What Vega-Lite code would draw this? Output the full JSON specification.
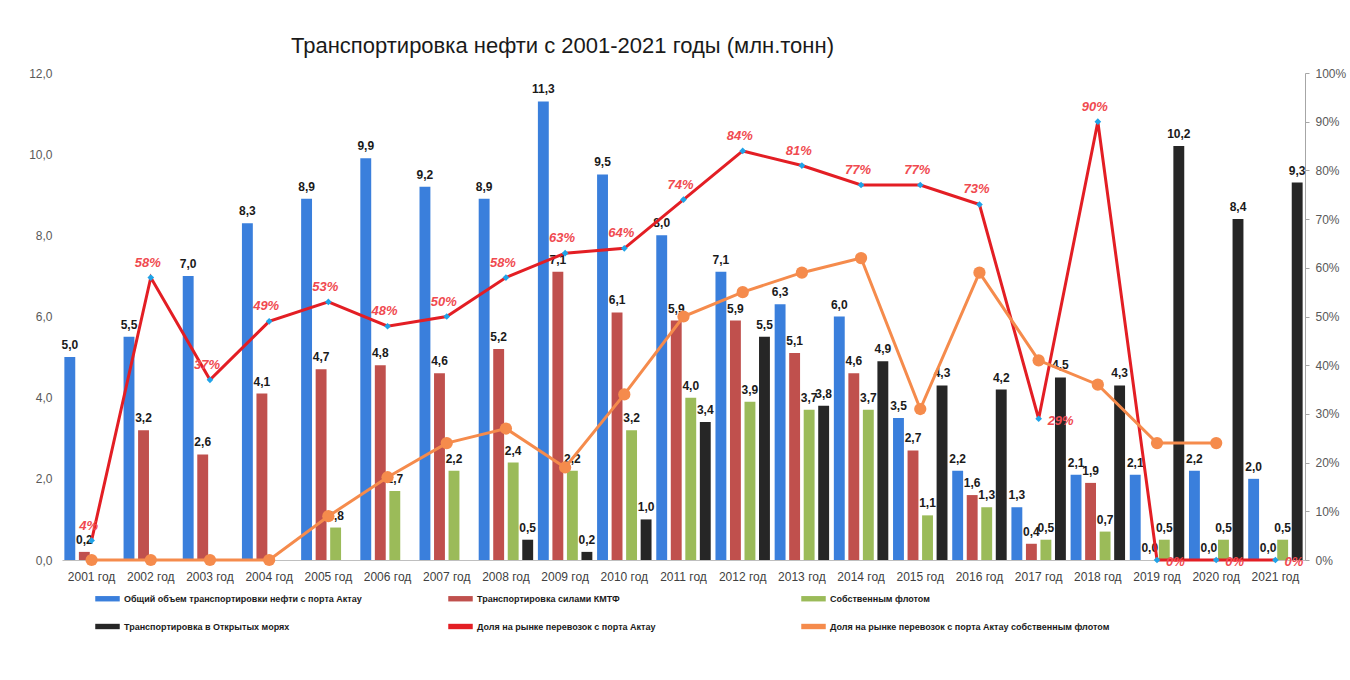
{
  "$schema": "https://vega.github.io/schema/vega-lite/v6.json",
  "width": 1243,
  "height": 487,
  "autosize": {"type": "none"},
  "padding": {"left": 62, "top": 73, "right": 45, "bottom": 120},
  "background": "white",
  "config": {
    "locale": {"number": {"decimal": ",", "thousands": " ", "grouping": [3], "currency": ["", ""]}},
    "view": {"stroke": null},
    "font": "Liberation Sans"
  },
  "title": {
    "text": "Транспортировка нефти с 2001-2021 годы (млн.тонн)",
    "anchor": "middle",
    "dx": -121,
    "offset": 9,
    "fontSize": 22,
    "font": "Liberation Sans",
    "fontWeight": "normal",
    "color": "#1a1a1a"
  },
  "datasets": {
    "bars": [
      {"year": 2001, "series": "Общий объем транспортировки нефти с порта Актау", "value": 5.0},
      {"year": 2001, "series": "Транспортировка силами КМТФ", "value": 0.2},
      {"year": 2002, "series": "Общий объем транспортировки нефти с порта Актау", "value": 5.5},
      {"year": 2002, "series": "Транспортировка силами КМТФ", "value": 3.2},
      {"year": 2003, "series": "Общий объем транспортировки нефти с порта Актау", "value": 7.0},
      {"year": 2003, "series": "Транспортировка силами КМТФ", "value": 2.6},
      {"year": 2004, "series": "Общий объем транспортировки нефти с порта Актау", "value": 8.3},
      {"year": 2004, "series": "Транспортировка силами КМТФ", "value": 4.1},
      {"year": 2005, "series": "Общий объем транспортировки нефти с порта Актау", "value": 8.9},
      {"year": 2005, "series": "Транспортировка силами КМТФ", "value": 4.7},
      {"year": 2005, "series": "Собственным флотом", "value": 0.8},
      {"year": 2006, "series": "Общий объем транспортировки нефти с порта Актау", "value": 9.9},
      {"year": 2006, "series": "Транспортировка силами КМТФ", "value": 4.8},
      {"year": 2006, "series": "Собственным флотом", "value": 1.7},
      {"year": 2007, "series": "Общий объем транспортировки нефти с порта Актау", "value": 9.2},
      {"year": 2007, "series": "Транспортировка силами КМТФ", "value": 4.6},
      {"year": 2007, "series": "Собственным флотом", "value": 2.2},
      {"year": 2008, "series": "Общий объем транспортировки нефти с порта Актау", "value": 8.9},
      {"year": 2008, "series": "Транспортировка силами КМТФ", "value": 5.2},
      {"year": 2008, "series": "Собственным флотом", "value": 2.4},
      {"year": 2008, "series": "Транспортировка в Открытых морях", "value": 0.5},
      {"year": 2009, "series": "Общий объем транспортировки нефти с порта Актау", "value": 11.3},
      {"year": 2009, "series": "Транспортировка силами КМТФ", "value": 7.1},
      {"year": 2009, "series": "Собственным флотом", "value": 2.2},
      {"year": 2009, "series": "Транспортировка в Открытых морях", "value": 0.2},
      {"year": 2010, "series": "Общий объем транспортировки нефти с порта Актау", "value": 9.5},
      {"year": 2010, "series": "Транспортировка силами КМТФ", "value": 6.1},
      {"year": 2010, "series": "Собственным флотом", "value": 3.2},
      {"year": 2010, "series": "Транспортировка в Открытых морях", "value": 1.0},
      {"year": 2011, "series": "Общий объем транспортировки нефти с порта Актау", "value": 8.0},
      {"year": 2011, "series": "Транспортировка силами КМТФ", "value": 5.9},
      {"year": 2011, "series": "Собственным флотом", "value": 4.0},
      {"year": 2011, "series": "Транспортировка в Открытых морях", "value": 3.4},
      {"year": 2012, "series": "Общий объем транспортировки нефти с порта Актау", "value": 7.1},
      {"year": 2012, "series": "Транспортировка силами КМТФ", "value": 5.9},
      {"year": 2012, "series": "Собственным флотом", "value": 3.9},
      {"year": 2012, "series": "Транспортировка в Открытых морях", "value": 5.5},
      {"year": 2013, "series": "Общий объем транспортировки нефти с порта Актау", "value": 6.3},
      {"year": 2013, "series": "Транспортировка силами КМТФ", "value": 5.1},
      {"year": 2013, "series": "Собственным флотом", "value": 3.7},
      {"year": 2013, "series": "Транспортировка в Открытых морях", "value": 3.8},
      {"year": 2014, "series": "Общий объем транспортировки нефти с порта Актау", "value": 6.0},
      {"year": 2014, "series": "Транспортировка силами КМТФ", "value": 4.6},
      {"year": 2014, "series": "Собственным флотом", "value": 3.7},
      {"year": 2014, "series": "Транспортировка в Открытых морях", "value": 4.9},
      {"year": 2015, "series": "Общий объем транспортировки нефти с порта Актау", "value": 3.5},
      {"year": 2015, "series": "Транспортировка силами КМТФ", "value": 2.7},
      {"year": 2015, "series": "Собственным флотом", "value": 1.1},
      {"year": 2015, "series": "Транспортировка в Открытых морях", "value": 4.3},
      {"year": 2016, "series": "Общий объем транспортировки нефти с порта Актау", "value": 2.2},
      {"year": 2016, "series": "Транспортировка силами КМТФ", "value": 1.6},
      {"year": 2016, "series": "Собственным флотом", "value": 1.3},
      {"year": 2016, "series": "Транспортировка в Открытых морях", "value": 4.2},
      {"year": 2017, "series": "Общий объем транспортировки нефти с порта Актау", "value": 1.3},
      {"year": 2017, "series": "Транспортировка силами КМТФ", "value": 0.4},
      {"year": 2017, "series": "Собственным флотом", "value": 0.5},
      {"year": 2017, "series": "Транспортировка в Открытых морях", "value": 4.5},
      {"year": 2018, "series": "Общий объем транспортировки нефти с порта Актау", "value": 2.1},
      {"year": 2018, "series": "Транспортировка силами КМТФ", "value": 1.9},
      {"year": 2018, "series": "Собственным флотом", "value": 0.7},
      {"year": 2018, "series": "Транспортировка в Открытых морях", "value": 4.3},
      {"year": 2019, "series": "Общий объем транспортировки нефти с порта Актау", "value": 2.1},
      {"year": 2019, "series": "Транспортировка силами КМТФ", "value": 0.0},
      {"year": 2019, "series": "Собственным флотом", "value": 0.5},
      {"year": 2019, "series": "Транспортировка в Открытых морях", "value": 10.2},
      {"year": 2020, "series": "Общий объем транспортировки нефти с порта Актау", "value": 2.2},
      {"year": 2020, "series": "Транспортировка силами КМТФ", "value": 0.0},
      {"year": 2020, "series": "Собственным флотом", "value": 0.5},
      {"year": 2020, "series": "Транспортировка в Открытых морях", "value": 8.4},
      {"year": 2021, "series": "Общий объем транспортировки нефти с порта Актау", "value": 2.0},
      {"year": 2021, "series": "Транспортировка силами КМТФ", "value": 0.0},
      {"year": 2021, "series": "Собственным флотом", "value": 0.5},
      {"year": 2021, "series": "Транспортировка в Открытых морях", "value": 9.3}
    ],
    "lines": [
      {"year": 2001, "series": "Доля на рынке перевозок с порта Актау", "share": 0.04},
      {"year": 2002, "series": "Доля на рынке перевозок с порта Актау", "share": 0.58},
      {"year": 2003, "series": "Доля на рынке перевозок с порта Актау", "share": 0.37},
      {"year": 2004, "series": "Доля на рынке перевозок с порта Актау", "share": 0.49},
      {"year": 2005, "series": "Доля на рынке перевозок с порта Актау", "share": 0.53},
      {"year": 2006, "series": "Доля на рынке перевозок с порта Актау", "share": 0.48},
      {"year": 2007, "series": "Доля на рынке перевозок с порта Актау", "share": 0.50},
      {"year": 2008, "series": "Доля на рынке перевозок с порта Актау", "share": 0.58},
      {"year": 2009, "series": "Доля на рынке перевозок с порта Актау", "share": 0.63},
      {"year": 2010, "series": "Доля на рынке перевозок с порта Актау", "share": 0.64},
      {"year": 2011, "series": "Доля на рынке перевозок с порта Актау", "share": 0.74},
      {"year": 2012, "series": "Доля на рынке перевозок с порта Актау", "share": 0.84},
      {"year": 2013, "series": "Доля на рынке перевозок с порта Актау", "share": 0.81},
      {"year": 2014, "series": "Доля на рынке перевозок с порта Актау", "share": 0.77},
      {"year": 2015, "series": "Доля на рынке перевозок с порта Актау", "share": 0.77},
      {"year": 2016, "series": "Доля на рынке перевозок с порта Актау", "share": 0.73},
      {"year": 2017, "series": "Доля на рынке перевозок с порта Актау", "share": 0.29},
      {"year": 2018, "series": "Доля на рынке перевозок с порта Актау", "share": 0.90},
      {"year": 2019, "series": "Доля на рынке перевозок с порта Актау", "share": 0.0},
      {"year": 2020, "series": "Доля на рынке перевозок с порта Актау", "share": 0.0},
      {"year": 2021, "series": "Доля на рынке перевозок с порта Актау", "share": 0.0},
      {"year": 2001, "series": "Доля на рынке перевозок с порта Актау собственным флотом", "share": 0.0},
      {"year": 2002, "series": "Доля на рынке перевозок с порта Актау собственным флотом", "share": 0.0},
      {"year": 2003, "series": "Доля на рынке перевозок с порта Актау собственным флотом", "share": 0.0},
      {"year": 2004, "series": "Доля на рынке перевозок с порта Актау собственным флотом", "share": 0.0},
      {"year": 2005, "series": "Доля на рынке перевозок с порта Актау собственным флотом", "share": 0.09},
      {"year": 2006, "series": "Доля на рынке перевозок с порта Актау собственным флотом", "share": 0.17},
      {"year": 2007, "series": "Доля на рынке перевозок с порта Актау собственным флотом", "share": 0.24},
      {"year": 2008, "series": "Доля на рынке перевозок с порта Актау собственным флотом", "share": 0.27},
      {"year": 2009, "series": "Доля на рынке перевозок с порта Актау собственным флотом", "share": 0.19},
      {"year": 2010, "series": "Доля на рынке перевозок с порта Актау собственным флотом", "share": 0.34},
      {"year": 2011, "series": "Доля на рынке перевозок с порта Актау собственным флотом", "share": 0.50},
      {"year": 2012, "series": "Доля на рынке перевозок с порта Актау собственным флотом", "share": 0.55},
      {"year": 2013, "series": "Доля на рынке перевозок с порта Актау собственным флотом", "share": 0.59},
      {"year": 2014, "series": "Доля на рынке перевозок с порта Актау собственным флотом", "share": 0.62},
      {"year": 2015, "series": "Доля на рынке перевозок с порта Актау собственным флотом", "share": 0.31},
      {"year": 2016, "series": "Доля на рынке перевозок с порта Актау собственным флотом", "share": 0.59},
      {"year": 2017, "series": "Доля на рынке перевозок с порта Актау собственным флотом", "share": 0.41},
      {"year": 2018, "series": "Доля на рынке перевозок с порта Актау собственным флотом", "share": 0.36},
      {"year": 2019, "series": "Доля на рынке перевозок с порта Актау собственным флотом", "share": 0.24},
      {"year": 2020, "series": "Доля на рынке перевозок с порта Актау собственным флотом", "share": 0.24}
    ]
  },
  "layer": [
    {
      "data": {"name": "bars"},
      "encoding": {
        "x": {
          "field": "year",
          "type": "ordinal",
          "scale": {"paddingInner": 0.08, "paddingOuter": 0.04},
          "axis": {
            "title": null,
            "labelExpr": "datum.value + ' год'",
            "labelAngle": 0,
            "ticks": false,
            "domainColor": "#bfbfbf",
            "labelColor": "#404040",
            "labelFontSize": 12,
            "labelPadding": 11
          }
        },
        "xOffset": {
          "field": "series",
          "type": "nominal",
          "scale": {
            "domain": ["Общий объем транспортировки нефти с порта Актау", "Транспортировка силами КМТФ", "Собственным флотом", "Транспортировка в Открытых морях"],
            "paddingInner": 0.25
          }
        },
        "y": {
          "field": "value",
          "type": "quantitative",
          "scale": {"domain": [0, 12]},
          "axis": {
            "title": null,
            "format": ".1f",
            "values": [0, 2, 4, 6, 8, 10, 12],
            "grid": false,
            "domain": false,
            "ticks": false,
            "labelColor": "#595959",
            "labelFontSize": 12,
            "labelPadding": 10
          }
        }
      },
      "layer": [
        {
          "mark": {"type": "bar"},
          "encoding": {
            "color": {
              "field": "series",
              "type": "nominal",
              "scale": {
                "domain": ["Общий объем транспортировки нефти с порта Актау", "Транспортировка силами КМТФ", "Собственным флотом", "Транспортировка в Открытых морях", "Доля на рынке перевозок с порта Актау", "Доля на рынке перевозок с порта Актау собственным флотом"],
                "range": ["#3a7fdc", "#c0504d", "#9bbb59", "#262626", "#e31e24", "#f58b4c"]
              },
              "legend": {
                "orient": "none",
                "legendX": 33,
                "legendY": 513,
                "direction": "horizontal",
                "columns": 3,
                "gridAlign": "all",
                "title": null,
                "symbolType": "M-1,-0.22L1,-0.22L1,0.22L-1,0.22Z",
                "symbolSize": 600,
                "symbolStrokeWidth": 0,
                "symbolOpacity": 1,
                "labelFontSize": 9,
                "labelFontWeight": "bold",
                "labelColor": "#1a1a1a",
                "labelLimit": 400,
                "columnPadding": 44,
                "rowPadding": 10
              }
            }
          }
        },
        {
          "mark": {"type": "text", "baseline": "bottom", "dy": -5, "fontSize": 12, "fontWeight": "bold", "color": "#1a1a1a"},
          "encoding": {"text": {"field": "value", "type": "quantitative", "format": ".1f"}}
        }
      ]
    },
    {
      "data": {"name": "lines"},
      "encoding": {
        "x": {"field": "year", "type": "ordinal"},
        "y": {
          "field": "share",
          "type": "quantitative",
          "scale": {"domain": [0, 1]},
          "axis": {
            "orient": "right",
            "title": null,
            "format": ".0%",
            "values": [0, 0.1, 0.2, 0.3, 0.4, 0.5, 0.6, 0.7, 0.8, 0.9, 1],
            "grid": false,
            "domainColor": "#a6a6a6",
            "tickColor": "#a6a6a6",
            "tickSize": 4,
            "labelColor": "#595959",
            "labelFontSize": 12,
            "labelPadding": 6
          }
        }
      },
      "layer": [
        {
          "mark": {"type": "line", "strokeWidth": 3},
          "encoding": {"color": {"field": "series", "type": "nominal"}}
        },
        {
          "transform": [{"filter": "datum.series == 'Доля на рынке перевозок с порта Актау собственным флотом'"}],
          "mark": {"type": "circle", "size": 150, "color": "#f58b4c", "opacity": 1}
        },
        {
          "transform": [{"filter": "datum.series == 'Доля на рынке перевозок с порта Актау'"}],
          "mark": {"type": "point", "shape": "diamond", "filled": true, "size": 45, "color": "#1fa3e8", "opacity": 1}
        },
        {
          "transform": [{"filter": "datum.series == 'Доля на рынке перевозок с порта Актау' && datum.share > 0 && datum.year != 2017"}],
          "mark": {"type": "text", "dy": -15, "dx": -3, "fontSize": 13, "fontStyle": "italic", "fontWeight": "bold", "color": "#f04a50"},
          "encoding": {"text": {"field": "share", "type": "quantitative", "format": ".0%"}}
        },
        {
          "transform": [{"filter": "datum.series == 'Доля на рынке перевозок с порта Актау' && (datum.share == 0 || datum.year == 2017)"}],
          "mark": {"type": "text", "align": "left", "dx": 9, "dy": 2, "fontSize": 13, "fontStyle": "italic", "fontWeight": "bold", "color": "#f04a50"},
          "encoding": {"text": {"field": "share", "type": "quantitative", "format": ".0%"}}
        }
      ]
    }
  ],
  "resolve": {"scale": {"y": "independent"}}
}
